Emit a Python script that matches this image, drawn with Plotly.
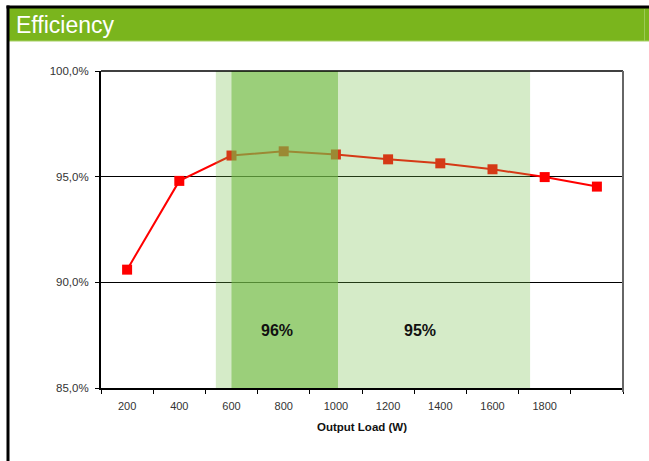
import plotly.graph_objects as go

# ---- data ----
loads = ["200", "400", "600", "800", "1000", "1200", "1400", "1600", "1800", "2000"]
tick_labels = ["200", "400", "600", "800", "1000", "1200", "1400", "1600", "1800", ""]
efficiency = [90.6, 94.8, 96.0, 96.2, 96.05, 95.82, 95.63, 95.35, 94.98, 94.53]
y_ticks = [85, 90, 95, 100]
y_tick_labels = ["85,0%", "90,0%", "95,0%", "100,0%"]
band_labels = ["96%", "95%"]
band_95 = (1.70, 7.72)   # category-index span of the 95% zone
band_96 = (2.0, 4.04)    # category-index span of the 96% zone

W, H = 649, 461
L, R, T, B = 101, 623, 71, 388

def px(x):
    return (x - L) / (R - L)

def py(y):
    return (B - y) / (B - T)

fig = go.Figure()
fig.add_trace(go.Scatter(
    x=loads, y=efficiency, mode="lines+markers",
    line=dict(color="#FF0000", width=2),
    marker=dict(symbol="square", size=10, color="#FF0000"),
    showlegend=False, hoverinfo="skip",
))

shapes = []
shapes.append(dict(type="rect", xref="x", yref="y", x0=band_95[0], x1=band_95[1],
                   y0=85, y1=100, fillcolor="rgba(117,189,72,0.30)", line=dict(width=0), layer="above"))
shapes.append(dict(type="rect", xref="x", yref="y", x0=band_96[0], x1=band_96[1],
                   y0=85, y1=100, fillcolor="rgba(117,189,72,0.607)", line=dict(width=0), layer="above"))
# top border of plot area (100% line) and right border
shapes.append(dict(type="line", xref="paper", yref="paper", x0=0, x1=1, y0=1, y1=1,
                   line=dict(color="#000000", width=1.5), layer="above"))
shapes.append(dict(type="line", xref="paper", yref="paper", x0=1, x1=1, y0=py(392), y1=1,
                   line=dict(color="#666666", width=2), layer="above"))
# header bar
shapes.append(dict(type="rect", xref="paper", yref="paper", x0=px(9), x1=px(660),
                   y0=py(41), y1=py(8), fillcolor="#7AB51D", line=dict(width=0), layer="above"))
shapes.append(dict(type="line", xref="paper", yref="paper", x0=px(9), x1=px(660),
                   y0=py(41), y1=py(41), line=dict(color="#A6D066", width=1), layer="above"))
shapes.append(dict(type="line", xref="paper", yref="paper", x0=px(644.5), x1=px(644.5),
                   y0=py(41), y1=py(9), line=dict(color="#9CCB55", width=1), layer="above"))
# frame
shapes.append(dict(type="line", xref="paper", yref="paper", x0=px(6.5), x1=px(660),
                   y0=py(7), y1=py(7), line=dict(color="#000000", width=3), layer="above"))
shapes.append(dict(type="line", xref="paper", yref="paper", x0=px(8), x1=px(8),
                   y0=py(470), y1=py(5.5), line=dict(color="#000000", width=3), layer="above"))

annotations = [
    dict(text="Efficiency", xref="paper", yref="paper", x=px(14), y=py(25),
         xanchor="left", yanchor="middle", showarrow=False,
         font=dict(family="Liberation Sans, Arial", size=23, color="#FFFFFF")),
    dict(text="<b>%s</b>" % band_labels[0], xref="x", yref="y", x=2.87, y=87.7,
         showarrow=False, font=dict(family="Liberation Sans, Arial", size=16, color="#111111")),
    dict(text="<b>%s</b>" % band_labels[1], xref="x", yref="y", x=5.62, y=87.7,
         showarrow=False, font=dict(family="Liberation Sans, Arial", size=16, color="#111111")),
]

fig.update_layout(
    width=W, height=H,
    margin=dict(l=L, r=W - R, t=T, b=H - B, pad=0),
    paper_bgcolor="#FFFFFF", plot_bgcolor="#FFFFFF",
    shapes=shapes, annotations=annotations,
    font=dict(family="Liberation Sans, Arial", size=11, color="#333333"),
    xaxis=dict(
        type="category", categoryorder="array", categoryarray=loads,
        tickmode="array", tickvals=loads, ticktext=tick_labels,
        tickson="boundaries", ticks="outside", ticklen=4, tickcolor="#000000",
        ticklabelstandoff=7,
        showline=True, linecolor="#000000", linewidth=2, showgrid=False,
        range=[-0.5, 9.5], fixedrange=True,
        title=dict(text="<b>Output Load (W)</b>", font=dict(size=11.5, color="#111111"), standoff=12),
        tickfont=dict(size=11, color="#333333"),
    ),
    yaxis=dict(
        range=[85, 100], tickmode="array", tickvals=y_ticks, ticktext=y_tick_labels,
        ticks="outside", ticklen=4, tickcolor="#000000", ticklabelstandoff=4,
        showline=True, linecolor="#000000", linewidth=2,
        showgrid=True, gridcolor="#000000", gridwidth=1, zeroline=False,
        tickfont=dict(size=11.5, color="#333333"), fixedrange=True,
    ),
)

fig.write_html("out.html", config={"displayModeBar": False},
               post_script="document.body.style.margin='0px';document.body.style.overflow='hidden';")
